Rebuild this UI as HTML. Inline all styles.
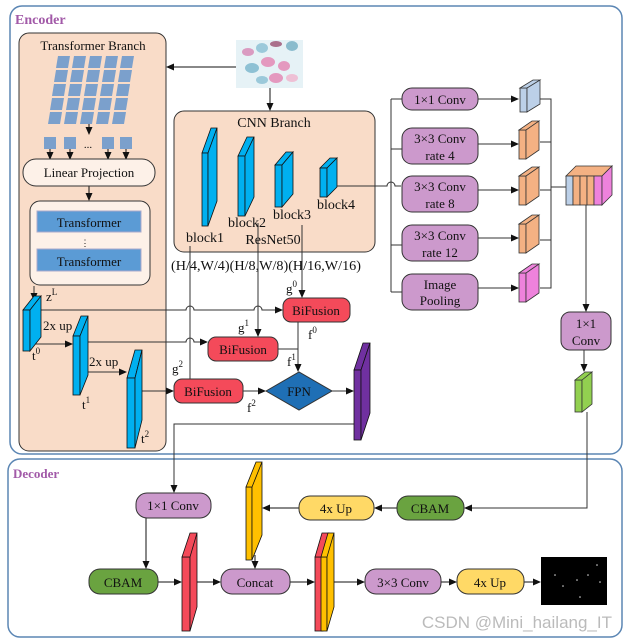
<!DOCTYPE html>
<html><head><meta charset="utf-8"><style>body{margin:0;background:#fff}svg{display:block}text{font-family:"Liberation Serif",serif;fill:#111}</style></head><body>
<svg width="630" height="640" viewBox="0 0 630 640" xmlns="http://www.w3.org/2000/svg">
<defs><marker id="a" markerWidth="8" markerHeight="8" refX="7" refY="4" orient="auto" markerUnits="userSpaceOnUse"><path d="M0,0.5 L8,4 L0,7.5z" fill="#111"/></marker></defs>
<rect x="10" y="6" width="612" height="448" rx="12" fill="none" stroke="#5b86b4" stroke-width="1.5"/>
<rect x="8" y="459" width="614" height="178" rx="12" fill="none" stroke="#5b86b4" stroke-width="1.5"/>
<text x="15" y="24" font-size="14" font-weight="bold" style="fill:#a25aa8">Encoder</text>
<text x="13" y="478" font-size="13" font-weight="bold" style="fill:#a25aa8">Decoder</text>
<rect x="19" y="33" width="147" height="418" rx="10" fill="#f9dcc8" stroke="#333"/>
<text x="93" y="50" font-size="13" text-anchor="middle">Transformer Branch</text>
<g fill="#7ba0cc">
<g id="row"><path d="M58,56h12l-2,12h-12z"/><path d="M74,56h12l-2,12h-12z"/><path d="M90,56h12l-2,12h-12z"/><path d="M106,56h12l-2,12h-12z"/><path d="M122,56h12l-2,12h-12z"/></g>
<use href="#row" transform="translate(-2,14)"/><use href="#row" transform="translate(-4,28)"/><use href="#row" transform="translate(-6,42)"/><use href="#row" transform="translate(-8,56)"/>
<rect x="44" y="137" width="12" height="12"/><rect x="64" y="137" width="12" height="12"/><rect x="102" y="137" width="12" height="12"/><rect x="120" y="137" width="12" height="12"/>
</g>
<text x="88" y="148" font-size="11" text-anchor="middle">...</text>
<g stroke="#111" marker-end="url(#a)"><line x1="89" y1="124" x2="89" y2="134"/><line x1="50" y1="149" x2="50" y2="159"/><line x1="70" y1="149" x2="70" y2="159"/><line x1="108" y1="149" x2="108" y2="159"/><line x1="126" y1="149" x2="126" y2="159"/><line x1="89" y1="186" x2="89" y2="200"/></g>
<rect x="23" y="159" width="132" height="27" rx="13" fill="#fdf1e8" stroke="#333"/>
<text x="89" y="177" font-size="13" text-anchor="middle">Linear Projection</text>
<rect x="30" y="201" width="120" height="84" rx="10" fill="#fdf1e8" stroke="#333"/>
<rect x="37" y="211" width="104" height="21" fill="#5b9bd5" stroke="#aac"/>
<rect x="37" y="249" width="104" height="22" fill="#5b9bd5" stroke="#aac"/>
<text x="89" y="227" font-size="13" text-anchor="middle">Transformer</text>
<text x="89" y="266" font-size="13" text-anchor="middle">Transformer</text>
<text x="85" y="246" font-size="9" text-anchor="middle">⋮</text>
<rect x="236" y="40" width="67" height="48" fill="#e6f2f6"/>
<g opacity="0.85"><ellipse cx="248" cy="52" rx="6" ry="4" fill="#d98cb8"/><ellipse cx="262" cy="48" rx="6" ry="5" fill="#8fc3d6"/><ellipse cx="276" cy="44" rx="6" ry="3" fill="#a05a7a"/><ellipse cx="292" cy="46" rx="6" ry="5" fill="#7ab3c7"/><ellipse cx="252" cy="68" rx="7" ry="5" fill="#7fb9cf"/><ellipse cx="268" cy="62" rx="7" ry="5" fill="#e48ab6"/><ellipse cx="284" cy="66" rx="6" ry="5" fill="#e48ab6"/><ellipse cx="276" cy="78" rx="7" ry="5" fill="#e48ab6"/><ellipse cx="292" cy="78" rx="6" ry="4" fill="#f0b8d0"/><ellipse cx="262" cy="80" rx="6" ry="4" fill="#8fc3d6"/></g>
<g stroke="#111" marker-end="url(#a)"><line x1="236" y1="67" x2="167" y2="67"/><line x1="270" y1="88" x2="270" y2="110"/></g>
<rect x="174" y="111" width="201" height="141" rx="10" fill="#f9dcc8" stroke="#333"/>
<text x="274" y="127" font-size="14" text-anchor="middle">CNN Branch</text>
<g fill="#00b0f0" stroke="#111" stroke-width="0.8">
<path d="M202,153 L211,128 L217,128 L208,153z"/><rect x="202" y="153" width="6" height="73"/><path d="M208,153 L217,128 L217,201 L208,226z"/>
<path d="M238,156 L247,137 L254,137 L245,156z"/><rect x="238" y="156" width="7" height="60"/><path d="M245,156 L254,137 L254,197 L245,216z"/>
<path d="M275,165 L286,152 L293,152 L282,165z"/><rect x="275" y="165" width="7" height="42"/><path d="M282,165 L293,152 L293,194 L282,207z"/>
<path d="M320,168 L330,158 L337,158 L327,168z"/><rect x="320" y="168" width="7" height="29"/><path d="M327,168 L337,158 L337,187 L327,197z"/>
</g>
<g font-size="14" text-anchor="middle"><text x="205" y="242">block1</text><text x="247" y="227">block2</text><text x="292" y="219">block3</text><text x="336" y="209">block4</text><text x="273" y="244">ResNet50</text></g>
<text x="171" y="270" font-size="14" textLength="190" lengthAdjust="spacingAndGlyphs">(H/4,W/4)(H/8,W/8)(H/16,W/16)</text>
<g stroke="#333" fill="none">
<line x1="190" y1="246" x2="190" y2="388" marker-end="url(#a)"/>
<line x1="258" y1="223" x2="258" y2="336" marker-end="url(#a)"/>
<line x1="302" y1="225" x2="302" y2="297" marker-end="url(#a)"/>
<path d="M41,310 H186 a4,4 0 0 1 8,0 H254 a4,4 0 0 1 8,0 H282" marker-end="url(#a)"/>
<path d="M88,342 H186 a4,4 0 0 1 8,0 H207" marker-end="url(#a)"/>
<line x1="30" y1="344" x2="72" y2="344" marker-end="url(#a)"/>
<line x1="80" y1="372" x2="126" y2="372" marker-end="url(#a)"/>
<line x1="142" y1="391" x2="173" y2="391" marker-end="url(#a)"/>
<line x1="298" y1="322" x2="298" y2="371" marker-end="url(#a)"/>
<path d="M278,349 H298"/>
<line x1="243" y1="391" x2="265" y2="391" marker-end="url(#a)"/>
<line x1="332" y1="391" x2="353" y2="391" marker-end="url(#a)"/>
<path d="M354,424 H174 V492" marker-end="url(#a)"/>
<line x1="34" y1="286" x2="34" y2="300" marker-end="url(#a)"/>
</g>
<g fill="#00b0f0" stroke="#111" stroke-width="0.8">
<path d="M23,310 L34,296 L41,296 L30,310z"/><rect x="23" y="310" width="7" height="41"/><path d="M30,310 L41,296 L41,337 L30,351z"/>
<path d="M73,336 L81,316 L88,316 L80,336z"/><rect x="73" y="336" width="7" height="59"/><path d="M80,336 L88,316 L88,375 L80,395z"/>
<path d="M127,378 L135,350 L142,350 L135,378z"/><rect x="127" y="378" width="8" height="70"/><path d="M135,378 L142,350 L142,420 L135,448z"/>
</g>
<g font-size="13"><text x="46" y="301">z<tspan font-size="9" dy="-6">L</tspan></text><text x="43" y="330">2x up</text><text x="89" y="366">2x up</text>
<text x="32" y="360">t<tspan font-size="9" dy="-6">0</tspan></text><text x="82" y="409">t<tspan font-size="9" dy="-6">1</tspan></text><text x="141" y="443">t<tspan font-size="9" dy="-6">2</tspan></text>
<text x="286" y="293">g<tspan font-size="9" dy="-6">0</tspan></text><text x="238" y="332">g<tspan font-size="9" dy="-6">1</tspan></text><text x="172" y="373">g<tspan font-size="9" dy="-6">2</tspan></text>
<text x="308" y="339">f<tspan font-size="9" dy="-6">0</tspan></text><text x="287" y="366">f<tspan font-size="9" dy="-6">1</tspan></text><text x="247" y="412">f<tspan font-size="9" dy="-6">2</tspan></text></g>
<g fill="#f44a5a" stroke="#333"><rect x="283" y="298" width="67" height="24" rx="8"/><rect x="208" y="337" width="70" height="24" rx="8"/><rect x="174" y="379" width="69" height="24" rx="8"/></g>
<g font-size="13" text-anchor="middle"><text x="316" y="315">BiFusion</text><text x="243" y="354">BiFusion</text><text x="208" y="396">BiFusion</text></g>
<path d="M266,391 L299,372 L332,391 L299,410z" fill="#1f6fb5" stroke="#333"/>
<text x="299" y="396" font-size="13" text-anchor="middle">FPN</text>
<g fill="#7030a0" stroke="#111" stroke-width="0.8"><path d="M354,370 L363,343 L370,343 L361,370z"/><rect x="354" y="370" width="7" height="70"/><path d="M361,370 L370,343 L370,413 L361,440z"/></g>
<g stroke="#333" fill="none">
<path d="M337,186 H387 a4,4 0 0 1 8,0 H401"/>
<line x1="391" y1="99" x2="391" y2="292"/>
<line x1="391" y1="99" x2="402" y2="99"/><line x1="391" y1="149" x2="402" y2="149"/><line x1="391" y1="245" x2="402" y2="245"/><line x1="391" y1="292" x2="402" y2="292"/>
<line x1="478" y1="99" x2="518" y2="99" marker-end="url(#a)"/><line x1="478" y1="144" x2="518" y2="144" marker-end="url(#a)"/><line x1="478" y1="190" x2="518" y2="190" marker-end="url(#a)"/><line x1="478" y1="238" x2="518" y2="238" marker-end="url(#a)"/><line x1="478" y1="288" x2="518" y2="288" marker-end="url(#a)"/>
<path d="M540,99 H551 V288 H540 M540,142 H551 M540,190 H551 M540,240 H551"/>
<line x1="551" y1="187" x2="566" y2="187"/>
<line x1="586" y1="205" x2="586" y2="311" marker-end="url(#a)"/>
<line x1="584" y1="350" x2="584" y2="371" marker-end="url(#a)"/>
<path d="M587,412 V508 H465" marker-end="url(#a)"/>
</g>
<g fill="#cc99cc" stroke="#333"><rect x="402" y="88" width="76" height="22" rx="10"/><rect x="402" y="128" width="76" height="36" rx="10"/><rect x="402" y="176" width="76" height="36" rx="10"/><rect x="402" y="225" width="76" height="36" rx="10"/><rect x="402" y="274" width="76" height="36" rx="10"/><rect x="561" y="312" width="50" height="38" rx="9"/></g>
<g font-size="13" text-anchor="middle"><text x="440" y="104">1×1 Conv</text><text x="440" y="143">3×3 Conv</text><text x="440" y="160">rate 4</text><text x="440" y="191">3×3 Conv</text><text x="440" y="208">rate 8</text><text x="440" y="240">3×3 Conv</text><text x="440" y="257">rate 12</text><text x="440" y="289">Image</text><text x="440" y="305">Pooling</text><text x="586" y="328">1×1</text><text x="586" y="345">Conv</text></g>
<g stroke="#333" stroke-width="0.8">
<g fill="#bcd0e8"><rect x="520" y="88" width="7" height="24"/><path d="M527,88 L540,80 L540,104 L527,112z M520,88 L533,80 L540,80 L527,88z"/></g>
<g fill="#f4b183"><rect x="519" y="130" width="7" height="29"/><path d="M526,130 L539,121 L539,150 L526,159z M519,130 L532,121 L539,121 L526,130z"/>
<rect x="519" y="176" width="7" height="29"/><path d="M526,176 L539,167 L539,196 L526,205z M519,176 L532,167 L539,167 L526,176z"/>
<rect x="519" y="224" width="7" height="29"/><path d="M526,224 L539,215 L539,244 L526,253z M519,224 L532,215 L539,215 L526,224z"/></g>
<g fill="#ee82dc"><rect x="519" y="273" width="7" height="29"/><path d="M526,273 L539,264 L539,293 L526,302z M519,273 L532,264 L539,264 L526,273z"/></g>
<path d="M566,176 L576,166 L612,166 L602,176z" fill="#f4b183"/>
<rect x="566" y="176" width="7" height="29" fill="#bcd0e8"/><rect x="573" y="176" width="7" height="29" fill="#f4b183"/><rect x="580" y="176" width="7" height="29" fill="#f4b183"/><rect x="587" y="176" width="7" height="29" fill="#f4b183"/><rect x="594" y="176" width="8" height="29" fill="#ee82dc"/>
<path d="M602,176 L612,166 L612,195 L602,205z" fill="#ee82dc"/>
<g fill="#92d050"><rect x="575" y="380" width="7" height="32"/><path d="M582,380 L592,372 L592,404 L582,412z M575,380 L585,372 L592,372 L582,380z"/></g>
</g>
<g stroke="#111" fill="none">
<line x1="397" y1="508" x2="375" y2="508" marker-end="url(#a)"/>
<line x1="299" y1="508" x2="263" y2="508" marker-end="url(#a)"/>
<line x1="255" y1="555" x2="255" y2="568" marker-end="url(#a)"/>
<line x1="146" y1="518" x2="146" y2="568" marker-end="url(#a)"/>
<line x1="158" y1="582" x2="181" y2="582" marker-end="url(#a)"/>
<line x1="197" y1="582" x2="220" y2="582" marker-end="url(#a)"/>
<line x1="290" y1="582" x2="314" y2="582" marker-end="url(#a)"/>
<line x1="334" y1="582" x2="364" y2="582" marker-end="url(#a)"/>
<line x1="441" y1="582" x2="456" y2="582" marker-end="url(#a)"/>
<line x1="524" y1="582" x2="540" y2="582" marker-end="url(#a)"/>
</g>
<rect x="136" y="493" width="75" height="25" rx="11" fill="#cc99cc" stroke="#333"/><text x="173" y="510" font-size="13" text-anchor="middle">1×1 Conv</text>
<rect x="299" y="496" width="75" height="24" rx="11" fill="#ffd966" stroke="#333"/><text x="336" y="513" font-size="13" text-anchor="middle">4x Up</text>
<rect x="397" y="496" width="67" height="24" rx="11" fill="#6aa340" stroke="#333"/><text x="430" y="513" font-size="13" text-anchor="middle">CBAM</text>
<rect x="89" y="569" width="69" height="25" rx="11" fill="#6aa340" stroke="#333"/><text x="123" y="587" font-size="13" text-anchor="middle">CBAM</text>
<rect x="221" y="569" width="69" height="25" rx="11" fill="#cc99cc" stroke="#333"/><text x="255" y="587" font-size="13" text-anchor="middle">Concat</text>
<rect x="365" y="569" width="76" height="25" rx="11" fill="#cc99cc" stroke="#333"/><text x="403" y="587" font-size="13" text-anchor="middle">3×3 Conv</text>
<rect x="457" y="569" width="67" height="25" rx="11" fill="#ffd966" stroke="#333"/><text x="490" y="587" font-size="13" text-anchor="middle">4x Up</text>
<g stroke="#111" stroke-width="0.8">
<g fill="#ffc000"><rect x="246" y="487" width="6" height="73"/><path d="M252,487 L262,462 L262,535 L252,560z M246,487 L256,462 L262,462 L252,487z"/></g>
<g fill="#f44a5a"><rect x="182" y="557" width="8" height="74"/><path d="M190,557 L197,533 L197,607 L190,631z M182,557 L190,533 L197,533 L190,557z"/></g>
<g fill="#f44a5a"><rect x="315" y="557" width="8" height="74"/><path d="M315,557 L322,533 L329,533 L323,557z"/></g>
<g fill="#ffc000"><rect x="321" y="557" width="6" height="74"/><path d="M327,557 L334,533 L334,607 L327,631z M321,557 L328,533 L334,533 L327,557z"/></g>
</g>
<rect x="541" y="557" width="66" height="48" fill="#000"/>
<g fill="#ddd"><circle cx="555" cy="575" r="0.8"/><circle cx="563" cy="586" r="0.8"/><circle cx="577" cy="580" r="0.8"/><circle cx="597" cy="565" r="0.8"/><circle cx="600" cy="582" r="0.8"/><circle cx="580" cy="597" r="0.8"/><circle cx="588" cy="575" r="0.8"/></g>
<text x="612" y="628" font-size="17" text-anchor="end" style="fill:#bbb;font-family:'Liberation Sans',sans-serif">CSDN @Mini_hailang_IT</text>
</svg>
</body></html>
